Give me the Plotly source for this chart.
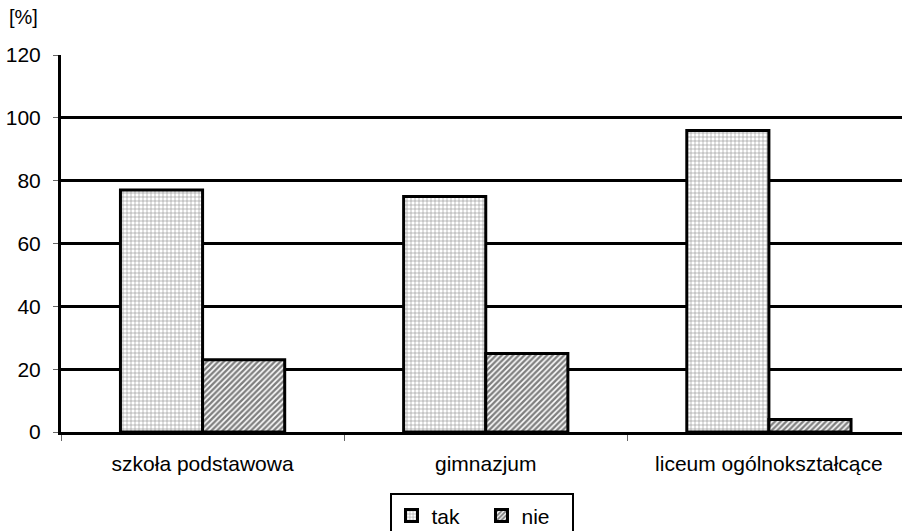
import plotly.graph_objects as go

categories = ["szkoła podstawowa", "gimnazjum", "liceum ogólnokształcące"]
tak_values = [77, 75, 96]
nie_values = [23, 25, 4]
y_ticks = [0, 20, 40, 60, 80, 100, 120]

FONT = "Liberation Sans, Arial, sans-serif"

fig = go.Figure()
fig.add_trace(go.Bar(
    name="tak", x=categories, y=tak_values,
    marker=dict(
        color="white",
        line=dict(color="black", width=3),
        pattern=dict(shape="+", fgcolor="#333333", bgcolor="white", size=4, solidity=0.3),
    ),
))
fig.add_trace(go.Bar(
    name="nie", x=categories, y=nie_values,
    marker=dict(
        color="white",
        line=dict(color="black", width=3),
        pattern=dict(shape="/", fgcolor="black", bgcolor="white", size=4, solidity=0.6),
    ),
))

fig.update_layout(
    width=902, height=531,
    margin=dict(l=61, r=0, t=55, b=99, autoexpand=False),
    paper_bgcolor="white", plot_bgcolor="white",
    barmode="group", bargap=0.42, bargroupgap=0,
    font=dict(family=FONT, size=21, color="black"),
    showlegend=True,
    legend=dict(
        orientation="h", x=0.5, xanchor="center", y=-0.163, yanchor="top",
        bordercolor="black", borderwidth=2, bgcolor="white",
        font=dict(family=FONT, size=21, color="black"),
        itemwidth=30, entrywidth=45, entrywidthmode="pixels",
    ),
    annotations=[dict(
        text="[%]", xref="paper", yref="paper", x=-0.045, y=1.1,
        xanchor="center", yanchor="middle", showarrow=False,
        font=dict(family=FONT, size=20, color="black"),
    )],
)

fig.update_xaxes(
    range=[-0.5, 2.47],
    showline=True, linecolor="black", linewidth=3,
    ticks="outside", tickson="boundaries", ticklen=6, tickcolor="#666666", tickwidth=1,
    ticklabelstandoff=11,
    showgrid=False, tickfont=dict(family=FONT, size=21, color="black"),
)
fig.update_yaxes(
    range=[0, 120], tickvals=y_ticks,
    showline=True, linecolor="black", linewidth=3,
    ticks="outside", ticklen=5, tickcolor="#666666", tickwidth=1,
    ticklabelstandoff=8,
    showgrid=True, gridcolor="black", gridwidth=3, zeroline=False,
    tickfont=dict(family=FONT, size=21, color="black"),
)

fig.write_html("out.html")
